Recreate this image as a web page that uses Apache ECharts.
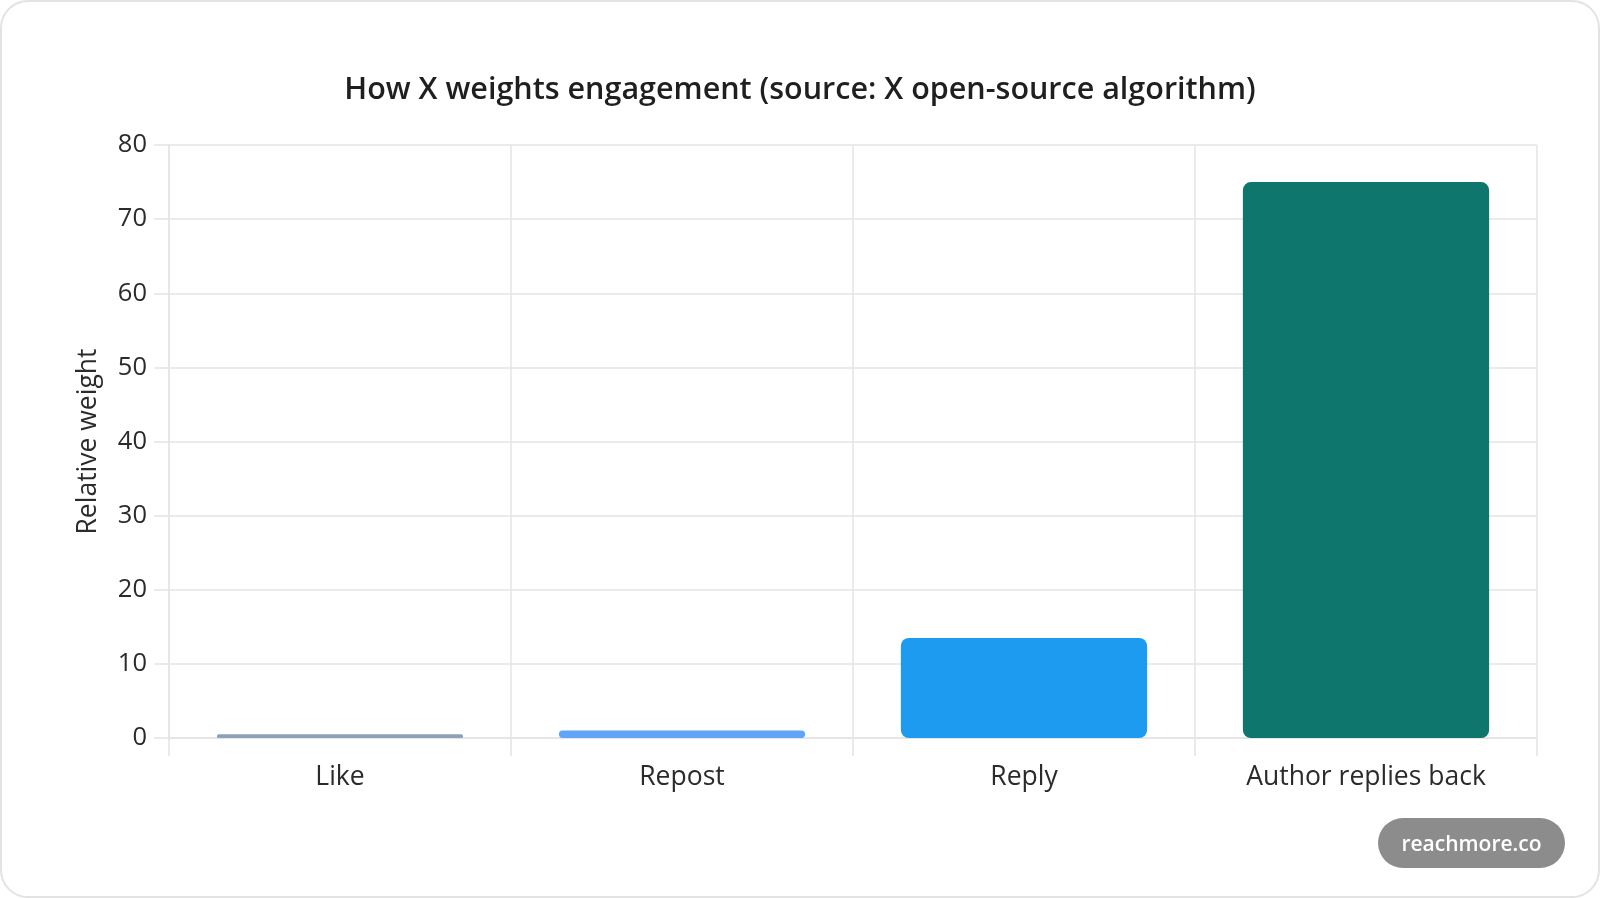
<!DOCTYPE html>
<html>
<head>
<meta charset="utf-8">
<title>How X weights engagement</title>
<script src="https://cdn.jsdelivr.net/npm/echarts@6/dist/echarts.min.js"></script>
<style>
    html, body { margin: 0; padding: 0; background: #fff; }
    .card {
        position: relative;
        width: 1600px;
        height: 898px;
    }
    .card-border {
        position: absolute;
        left: 0; top: 0; right: 0; bottom: 0;
        border: 2px solid #e3e3e3;
        border-radius: 28px;
        pointer-events: none;
    }
    #chart {
        position: absolute;
        left: 0; top: 0;
        width: 1600px;
        height: 898px;
    }
</style>
</head>
<body>
<div class="card">
    <div id="chart"></div>
    <div class="card-border"></div>
</div>
<script>
// data
const categories = ['Like', 'Repost', 'Reply', 'Author replies back']
const weights = [0.5, 1, 13.5, 75]
const barColors = ['#8fa1b6', '#60a5fa', '#1d9bf0', '#0f766e']
const yTicks = [0, 10, 20, 30, 40, 50, 60, 70, 80]

const FONT = '"Open Sans", "Noto Sans", sans-serif'
const gridColor = '#e4e4e4'

const myChart = echarts.init(document.getElementById('chart'), null, { renderer: 'canvas' })

myChart.setOption({
    animation: false,
    backgroundColor: 'transparent',
    title: {
        text: 'How X weights engagement (source: X open-source algorithm)',
        left: 'center',
        top: 70,
        textStyle: {
            fontFamily: FONT,
            fontSize: 30.5,
            fontWeight: 600,
            color: '#1f1f1f'
        }
    },
    grid: {
        left: 169,
        right: 63,
        top: 145,
        bottom: 160,
        containLabel: false
    },
    xAxis: {
        type: 'category',
        data: categories,
        axisLine: { show: true, lineStyle: { color: gridColor, width: 1.5 } },
        axisTick: { show: true, alignWithLabel: false, length: 18, lineStyle: { color: gridColor, width: 1.5 } },
        splitLine: { show: true, lineStyle: { color: gridColor, width: 1.5 } },
        axisLabel: {
            margin: 26,
            fontFamily: FONT,
            fontSize: 26.5,
            color: '#2b2b2b'
        }
    },
    yAxis: {
        type: 'value',
        min: yTicks[0],
        max: yTicks[yTicks.length - 1],
        interval: 10,
        name: 'Relative weight',
        nameLocation: 'middle',
        nameGap: 67,
        nameTextStyle: {
            fontFamily: FONT,
            fontSize: 26.5,
            color: '#2b2b2b'
        },
        axisLine: { show: true, lineStyle: { color: gridColor, width: 1.5 } },
        axisTick: { show: true, length: 15, lineStyle: { color: gridColor, width: 1.5 } },
        splitLine: { show: true, lineStyle: { color: gridColor, width: 1.5 } },
        axisLabel: {
            margin: 22,
            fontFamily: FONT,
            fontSize: 25.5,
            color: '#2b2b2b'
        }
    },
    series: [
        {
            type: 'bar',
            barWidth: '72%',
            data: weights.map((v, i) => ({
                value: v,
                itemStyle: { color: barColors[i], borderRadius: 8 }
            }))
        }
    ],
    graphic: [
        {
            type: 'group',
            right: 35,
            bottom: 30,
            children: [
                {
                    type: 'rect',
                    shape: { x: 0, y: 0, width: 187, height: 50, r: 25 },
                    style: { fill: '#8c8c8c' }
                },
                {
                    type: 'text',
                    x: 93.5,
                    y: 27,
                    style: {
                        text: 'reachmore.co',
                        fill: '#ffffff',
                        font: '600 21px "Open Sans", "Noto Sans", sans-serif',
                        align: 'center',
                        verticalAlign: 'middle'
                    }
                }
            ]
        }
    ]
})

window.addEventListener('resize', () => {
    myChart.resize()
})
</script>
</body>
</html>
